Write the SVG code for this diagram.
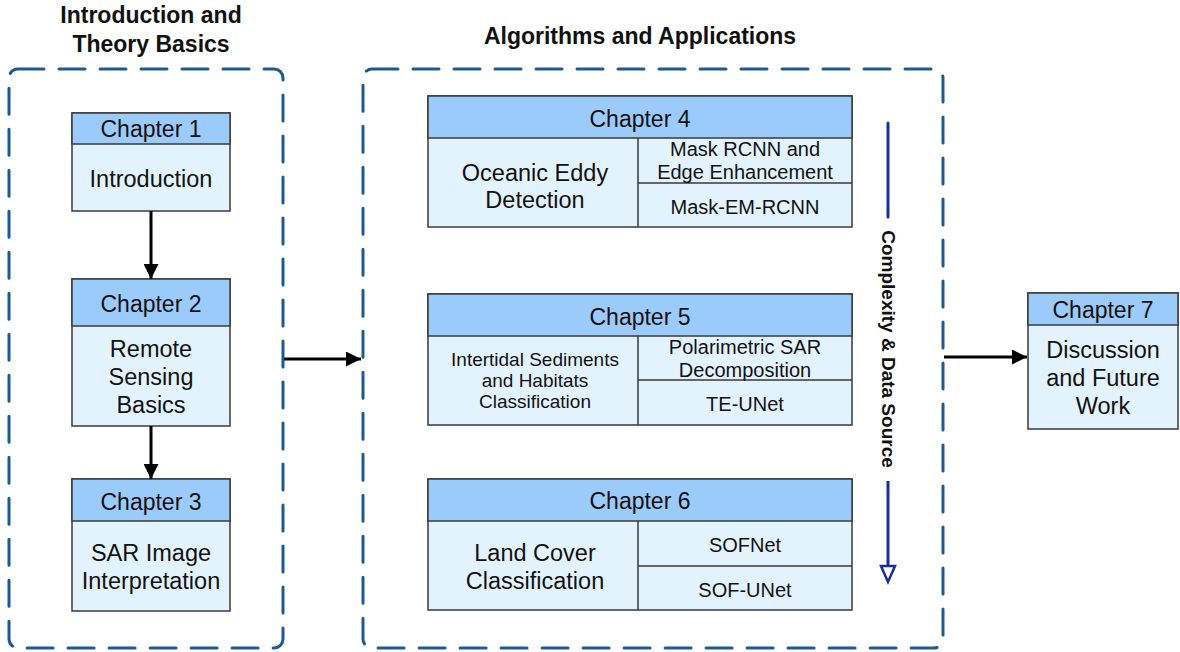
<svg xmlns="http://www.w3.org/2000/svg" width="1180" height="652" viewBox="0 0 1180 652">
  <style>
    text { font-family: "Liberation Sans", Arial, sans-serif; fill: #111; text-anchor: middle; }
    .title { font-size: 23px; font-weight: bold; }
    .hdr { font-size: 23px; }
    .body { font-size: 23.5px; }
    .sub { font-size: 20px; }
    .sub-s { font-size: 19px; }
    .group { fill: none; stroke: #1b5a94; stroke-width: 3; stroke-dasharray: 26 15; stroke-linecap: round; }
    .head { fill: #9bcbfa; stroke: #3a3a3a; stroke-width: 1.5; }
    .cell { fill: #e3f3fd; stroke: #3a3a3a; stroke-width: 1.5; }
    .div { stroke: #3a3a3a; stroke-width: 1.5; fill: none; }
    .flow { stroke: #000; stroke-width: 3; fill: none; }
    .scale { stroke: #1a2d9c; stroke-width: 3; fill: none; }
  </style>
  <defs>
    <marker id="arr" viewBox="0 0 10 10" refX="10" refY="5" markerWidth="5.5" markerHeight="5" markerUnits="strokeWidth" orient="auto">
      <path d="M0,0 L10,5 L0,10 Z" fill="#000"/>
    </marker>
  </defs>

  <rect width="1180" height="652" fill="#fff"/>

  <!-- section frames and titles -->
  <g id="section-intro">
    <rect class="group" x="9" y="69" width="274" height="579" rx="9"/>
    <text class="title" x="151" y="23">Introduction and</text>
    <text class="title" x="151" y="52">Theory Basics</text>
  </g>
  <g id="section-algorithms">
    <rect class="group" x="363" y="69" width="580" height="579" rx="9"/>
    <text class="title" x="640" y="44">Algorithms and Applications</text>
  </g>

  <!-- Chapter 1 -->
  <g id="chapter1">
    <rect class="cell" x="72" y="113" width="158" height="98"/>
    <rect class="head" x="72" y="113" width="158" height="31"/>
    <text class="hdr" x="151" y="137">Chapter 1</text>
    <text class="body" x="151" y="187">Introduction</text>
  </g>

  <!-- Chapter 2 -->
  <g id="chapter2">
    <rect class="cell" x="72" y="279" width="158" height="147"/>
    <rect class="head" x="72" y="279" width="158" height="47"/>
    <text class="hdr" x="151" y="312">Chapter 2</text>
    <text class="body" x="151" y="357">Remote</text>
    <text class="body" x="151" y="385">Sensing</text>
    <text class="body" x="151" y="413">Basics</text>
  </g>

  <!-- Chapter 3 -->
  <g id="chapter3">
    <rect class="cell" x="72" y="479" width="158" height="132"/>
    <rect class="head" x="72" y="479" width="158" height="42"/>
    <text class="hdr" x="151" y="510">Chapter 3</text>
    <text class="body" x="151" y="561">SAR Image</text>
    <text class="body" x="151" y="589">Interpretation</text>
  </g>

  <!-- Chapter 4 -->
  <g id="chapter4">
    <rect class="cell" x="428" y="96" width="424" height="131"/>
    <rect class="head" x="428" y="96" width="424" height="42"/>
    <path class="div" d="M638,138 V227 M638,183 H852"/>
    <text class="hdr" x="640" y="127">Chapter 4</text>
    <text class="body" x="535" y="181">Oceanic Eddy</text>
    <text class="body" x="535" y="208">Detection</text>
    <text class="sub" x="745" y="156">Mask RCNN and</text>
    <text class="sub" x="745" y="179">Edge Enhancement</text>
    <text class="sub" x="745" y="214">Mask-EM-RCNN</text>
  </g>

  <!-- Chapter 5 -->
  <g id="chapter5">
    <rect class="cell" x="428" y="294" width="424" height="131"/>
    <rect class="head" x="428" y="294" width="424" height="42"/>
    <path class="div" d="M638,336 V425 M638,380 H852"/>
    <text class="hdr" x="640" y="325">Chapter 5</text>
    <text class="sub-s" x="535" y="366">Intertidal Sediments</text>
    <text class="sub-s" x="535" y="387">and Habitats</text>
    <text class="sub-s" x="535" y="408">Classification</text>
    <text class="sub" x="745" y="354">Polarimetric SAR</text>
    <text class="sub" x="745" y="377">Decomposition</text>
    <text class="sub" x="745" y="411">TE-UNet</text>
  </g>

  <!-- Chapter 6 -->
  <g id="chapter6">
    <rect class="cell" x="428" y="479" width="424" height="131"/>
    <rect class="head" x="428" y="479" width="424" height="42"/>
    <path class="div" d="M638,521 V610 M638,566 H852"/>
    <text class="hdr" x="640" y="509">Chapter 6</text>
    <text class="body" x="535" y="561">Land Cover</text>
    <text class="body" x="535" y="589">Classification</text>
    <text class="sub" x="745" y="552">SOFNet</text>
    <text class="sub" x="745" y="597">SOF-UNet</text>
  </g>

  <!-- Chapter 7 -->
  <g id="chapter7">
    <rect class="cell" x="1028" y="293" width="150" height="136"/>
    <rect class="head" x="1028" y="293" width="150" height="32"/>
    <text class="hdr" x="1103" y="318">Chapter 7</text>
    <text class="body" x="1103" y="358">Discussion</text>
    <text class="body" x="1103" y="386">and Future</text>
    <text class="body" x="1103" y="414">Work</text>
  </g>

  <!-- complexity scale along the algorithm chapters -->
  <g id="complexity-scale">
    <line class="scale" x1="888" y1="123" x2="888" y2="217" stroke-linecap="round"/>
    <text x="0" y="0" font-size="19" font-weight="bold" transform="translate(882,349) rotate(90)">Complexity &amp; Data Source</text>
    <line class="scale" x1="888" y1="481" x2="888" y2="566"/>
    <path d="M881,566 L895,566 L888,582 Z" fill="#fff" stroke="#1a2d9c" stroke-width="2.5" stroke-linejoin="miter"/>
  </g>

  <!-- connectors -->
  <g id="connectors">
    <line class="flow" x1="151" y1="211" x2="151" y2="279" marker-end="url(#arr)"/>
    <line class="flow" x1="151" y1="426" x2="151" y2="479" marker-end="url(#arr)"/>
    <line class="flow" x1="284" y1="359" x2="361" y2="359" marker-end="url(#arr)"/>
    <line class="flow" x1="944" y1="357" x2="1027" y2="357" marker-end="url(#arr)"/>
  </g>
</svg>
